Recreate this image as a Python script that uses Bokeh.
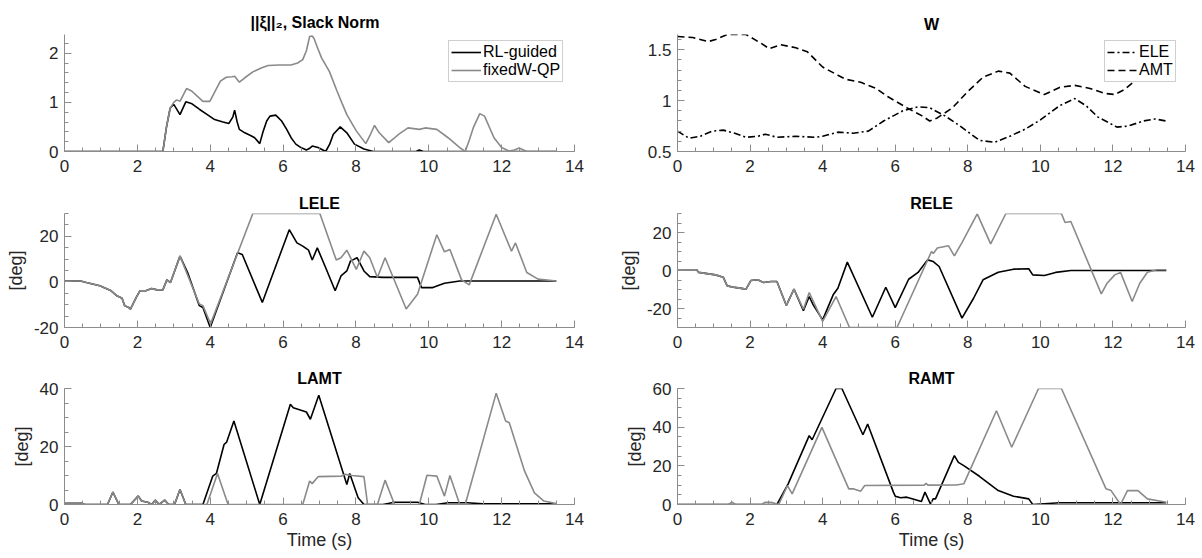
from bokeh.plotting import figure
from bokeh.layouts import column, row
from bokeh.models import Range1d, SingleIntervalTicker, CustomJSTickFormatter, Legend, LegendItem
from bokeh.embed import file_html
from bokeh.resources import INLINE

# ---------------- data ----------------
# Slack norm
slack_rl_x = [0, 2.70, 2.80, 2.90, 3.0, 3.17, 3.33, 3.50, 3.70, 3.9, 4.12, 4.35, 4.51, 4.62, 4.67, 4.74, 4.80, 4.95,
              5.12, 5.22, 5.36, 5.45, 5.55, 5.64, 5.80, 5.96, 6.10, 6.22, 6.35, 6.49, 6.64, 6.72, 6.80, 6.96, 7.17,
              7.28, 7.38, 7.57, 7.75, 7.96, 8.22, 8.48, 9.65, 9.74, 9.85, 13.5]
slack_rl_y = [0, 0, 0.5, 0.88, 0.96, 0.75, 1.01, 0.97, 0.86, 0.76, 0.65, 0.6, 0.57, 0.70, 0.84, 0.6, 0.45, 0.38,
              0.32, 0.28, 0.16, 0.4, 0.62, 0.72, 0.74, 0.62, 0.45, 0.28, 0.15, 0.08, 0.03, 0.06, 0.11, 0.08, 0.0,
              0.15, 0.35, 0.50, 0.38, 0.15, 0.05, 0.0, 0.0, 0.03, 0.0, 0.0]
slack_fw_x = [0, 2.70, 2.80, 2.90, 3.0, 3.08, 3.17, 3.35, 3.49, 3.65, 3.80, 3.99, 4.15, 4.28, 4.44, 4.60, 4.67, 4.80,
              4.95, 5.17, 5.40, 5.59, 5.90, 6.22, 6.40, 6.54, 6.64, 6.73, 6.80, 6.85, 6.95, 7.06, 7.27, 7.48, 7.62,
              7.75, 8.01, 8.27, 8.40, 8.51, 8.64, 8.90, 9.05, 9.17, 9.43, 9.74, 9.90, 10.22, 10.53, 10.85, 11.0,
              11.12, 11.22, 11.40, 11.53, 11.79, 12.0, 12.2, 12.35, 12.48, 12.69, 13.5]
slack_fw_y = [0, 0, 0.5, 0.88, 1.0, 1.05, 1.02, 1.28, 1.23, 1.12, 1.02, 1.02, 1.25, 1.43, 1.51, 1.52, 1.53, 1.41,
              1.50, 1.62, 1.70, 1.75, 1.76, 1.76, 1.80, 1.87, 2.05, 2.34, 2.35, 2.30, 2.10, 1.90, 1.63, 1.23, 0.98,
              0.75, 0.42, 0.16, 0.35, 0.53, 0.38, 0.18, 0.27, 0.35, 0.48, 0.45, 0.48, 0.45, 0.28, 0.08, 0.0,
              0.25, 0.48, 0.77, 0.72, 0.28, 0.08, 0.01, 0.03, 0.07, 0.0, 0.0]

# W
w_ele_x = [0, 0.32, 0.63, 0.95, 1.26, 1.58, 1.89, 2.21, 2.42, 2.74, 3.26, 3.79, 4.0, 4.42, 4.84, 5.26, 5.68, 6.21,
           6.63, 6.95, 7.37, 7.79, 8.32, 8.74, 9.16, 9.58, 10.0, 10.53, 10.95, 11.26, 11.58, 12.11, 12.42, 12.84,
           13.16, 13.47]
w_ele_y = [0.70, 0.63, 0.65, 0.70, 0.71, 0.68, 0.64, 0.65, 0.67, 0.64, 0.65, 0.64, 0.65, 0.69, 0.68, 0.70, 0.80,
           0.90, 0.94, 0.93, 0.85, 0.75, 0.61, 0.59, 0.65, 0.72, 0.81, 0.95, 1.02, 0.95, 0.84, 0.74, 0.75, 0.80,
           0.82, 0.80]
w_amt_x = [0, 0.42, 0.84, 1.05, 1.37, 1.89, 2.32, 2.53, 2.84, 3.26, 3.58, 4.0, 4.42, 4.63, 5.05, 5.47, 5.79, 6.32,
           6.74, 6.95, 7.16, 7.58, 8.0, 8.42, 8.84, 9.16, 9.58, 10.11, 10.53, 10.95, 11.37, 11.79, 12.05, 12.32,
           12.63, 12.95, 13.47]
w_amt_y = [1.63, 1.62, 1.58, 1.60, 1.65, 1.65, 1.56, 1.51, 1.55, 1.52, 1.48, 1.33, 1.25, 1.21, 1.18, 1.12, 1.04,
           0.93, 0.85, 0.80, 0.83, 0.93, 1.09, 1.23, 1.29, 1.27, 1.14, 1.06, 1.13, 1.15, 1.12, 1.07, 1.06, 1.11,
           1.20, 1.28, 1.36]

# LELE
lele_rl_x = [0, 0.44, 0.6, 0.97, 1.28, 1.44, 1.58, 1.65, 1.76, 1.81, 1.97, 2.07, 2.23, 2.39, 2.54, 2.70, 2.81, 2.91,
             3.17, 3.38, 3.70, 3.80, 4.0, 4.75, 4.88, 5.43, 6.17, 6.38, 6.54, 6.70, 6.80, 6.94, 7.17, 7.43, 7.59,
             7.75, 7.85, 8.03, 8.22, 8.38, 8.74, 9.69, 9.80, 10.11, 10.43, 10.85, 13.5]
lele_rl_y = [0.4, 0.4, -0.3, -1.7, -3.9, -6.1, -7.2, -10.4, -11.2, -11.9, -6.8, -3.9, -3.9, -2.9, -3.5, -3.5, 0.9,
             -0.3, 11.3, 4.1, -10.4, -11.2, -20, 12.8, 12.0, -9.0, 22.9, 17.1, 15.7, 13.9, 9.6, 14.9, 6.2, -3.9,
             2.6, 4.8, 9.1, 10.6, 4.8, 2.3, 2.0, 2.0, -2.5, -2.5, -0.6, 0.4, 0.4]
lele_fw_x = [0, 0.44, 0.6, 0.97, 1.28, 1.44, 1.58, 1.65, 1.76, 1.81, 1.97, 2.07, 2.23, 2.39, 2.54, 2.70, 2.81, 2.91,
             3.17, 3.70, 3.80, 4.01, 5.17, 7.01, 7.46, 7.59, 7.75, 8.01, 8.22, 8.38, 8.59, 8.80, 9.38, 9.69, 10.22,
             10.43, 10.58, 10.90, 11.11, 11.85, 12.27, 12.38, 12.69, 13.0, 13.5]
lele_fw_y = [0.4, 0.4, -0.3, -1.7, -3.9, -6.1, -7.2, -10.4, -11.2, -11.9, -6.8, -3.9, -3.9, -2.9, -3.5, -3.5, 0.9,
             -0.3, 11.3, -9.7, -10.4, -18.4, 30, 30, 9.6, 10.6, 13.9, 5.5, 13.5, 10.6, 1.9, 10.6, -11.9, -5.4, 20.7,
             13.2, 14.2, 0.9, -1.3, 29.7, 13.5, 17.1, 4.1, 1.2, 0.4]

# RELE
rele_rl_x = [0, 0.53, 0.58, 1.05, 1.26, 1.37, 1.58, 1.89, 2.02, 2.21, 2.37, 2.58, 2.74, 3.0, 3.21, 3.47, 3.63, 3.74,
             4.0, 4.29, 4.42, 4.68, 5.37, 5.74, 6.0, 6.37, 6.63, 6.89, 7.05, 7.21, 7.84, 8.16, 8.42, 8.84, 9.26,
             9.68, 9.79, 10.11, 10.42, 10.84, 13.47]
rele_rl_y = [0.4, 0.4, -1.0, -2.3, -3.5, -8.1, -8.9, -9.8, -5.3, -4.9, -6.3, -5.8, -5.8, -18.4, -9.8, -21.1, -13.7,
             -18.1, -26, -12.8, -9.3, 4.4, -24.6, -8.8, -19.5, -4.6, -1, 5.6, 4.7, 2.1, -25.1, -14.6, -4.9, -0.9,
             0.7, 0.9, -2.3, -2.6, -1, 0, 0]
rele_fw_x = [0, 0.53, 0.58, 1.05, 1.26, 1.37, 1.58, 1.89, 2.02, 2.21, 2.37, 2.58, 2.74, 3.0, 3.21, 3.47, 3.63, 4.0,
             4.37, 4.74, 6.05, 7.0, 7.05, 7.16, 7.47, 7.63, 7.84, 8.26, 8.63, 9.05, 10.58, 10.68, 10.84, 11.68,
             11.84, 12.05, 12.21, 12.53, 12.74, 12.95, 13.21, 13.47]
rele_fw_y = [0.4, 0.4, -1.0, -2.3, -3.5, -8.1, -8.9, -9.8, -5.3, -4.9, -6.3, -5.8, -5.8, -18.4, -9.8, -20.4, -11.6,
             -26.8, -13.7, -30, -30, 10, 9, 11.8, 13, 7.7, 14.7, 29.8, 14, 30, 30, 25.3, 25.8, -12.3, -6.7, -2.3,
             -1, -16.3, -6.7, -0.9, 0.4, 0.4]

# LAMT
lamt_rl_x = [0, 0.44, 0.55, 1.18, 1.33, 1.49, 1.81, 2.02, 2.12, 2.28, 2.39, 2.49, 2.60, 2.75, 2.86, 3.02, 3.17, 3.33,
             3.80, 4.07, 4.17, 4.38, 4.45, 4.65, 5.36, 6.20, 6.28, 6.64, 6.75, 6.98, 7.75, 7.83, 8.06, 8.22, 8.74,
             9.06, 9.69, 9.90, 10.2, 10.53, 11.06, 11.48, 13.5]
lamt_rl_y = [0.6, 0.6, 0, 0, 4.3, 0, 0, 2.9, 1.2, 0.8, 0, 1.5, 0, 1.5, 0, 0, 5.2, 0,
             0, 9.8, 10.7, 20.7, 21.5, 28.8, 0, 34.6, 33.4, 31.9, 29.4, 37.7, 6.9, 10.7, 2.3, 0, 0,
             0.8, 0.8, 0, 0, 0.6, 0.6, 0.2, 0.2]
lamt_fw_x = [0, 0.44, 0.55, 1.18, 1.33, 1.49, 1.81, 2.02, 2.12, 2.28, 2.39, 2.49, 2.60, 2.75, 2.86, 3.02, 3.17, 3.33,
             3.91, 4.2, 4.49, 6.54, 6.73, 6.80, 6.96, 7.6, 7.7, 7.9, 8.22, 8.32, 8.59, 8.80, 9.06, 9.74, 9.95, 10.22,
             10.43, 10.58, 10.85, 11.0, 11.85, 12.11, 12.21, 12.63, 12.90, 13.16, 13.5]
lamt_fw_y = [0.6, 0.6, 0, 0, 4.3, 0, 0, 2.9, 1.2, 0.8, 0, 1.5, 0, 1.5, 0, 0, 5.2, 0,
             0, 10.7, 0, 0, 8.1, 7.2, 9.6, 9.8, 10.4, 10.0, 9.6, 0, 0, 8.4, 0, 0, 10.1, 9.8,
             2.9, 10.0, 0, 0, 38.4, 28.8, 28.2, 11.5, 4.0, 1.2, 0.3]

# RAMT
ramt_rl_x = [0, 2.74, 3.05, 3.63, 3.71, 4.37, 4.53, 5.11, 5.24, 5.95, 6.0, 6.15, 6.32, 6.63, 6.72, 6.82, 6.97, 7.05,
             7.11, 7.63, 7.74, 7.89, 8.32, 8.84, 9.26, 9.68, 9.79, 10.53, 13.47]
ramt_rl_y = [0, 0, 10.7, 35.6, 33.5, 60, 60, 36.1, 41.6, 6.4, 4.3, 3.5, 3.8, 2.1, 1.5, 6.4, 0.3, 3,
             2.9, 25.3, 21.8, 20.1, 14.6, 7.2, 4.3, 2.9, 0, 0.9, 0.9]
ramt_fw_x = [0, 1.4, 1.5, 1.6, 2.32, 2.42, 2.58, 2.79, 3.03, 3.16, 3.98, 4.72, 4.84, 5.05, 5.16, 6.8, 6.85, 6.9,
             7.68, 7.89, 8.79, 9.21, 9.95, 10.58, 11.81, 11.95, 12.21, 12.40, 12.69, 12.95, 13.47]
ramt_fw_y = [0, 0, 1.2, 0, 0, 1.2, 1.2, 0, 9.8, 5.5, 39.9, 8.1, 8.1, 6.9, 9.8, 10, 11, 10,
             10.1, 10.7, 48.5, 29.6, 60, 60, 8.1, 7.2, 0, 7.2, 7.2, 2.9, 1.2]

series_labels = ["RL-guided", "fixedW-QP"]
w_labels = ["ELE", "AMT"]

# ---------------- styling ----------------
FONT = "Liberation Sans"
BLACK = "#000000"
GREY = "#8a8a8a"
AXC = "#8c8c8c"
TXT = "#262626"


def make(width, height, bl, br, bt, bb, yr, yint, yminor, title, ylabel=None, xlabel=None, tstand=4):
    p = figure(width=width, height=height, x_range=Range1d(0, 14), y_range=Range1d(*yr),
               output_backend="svg", toolbar_location=None,
               min_border_left=bl, min_border_right=br, min_border_top=bt, min_border_bottom=bb)
    p.outline_line_color = None
    p.xgrid.visible = False
    p.ygrid.visible = False
    p.background_fill_color = "white"
    p.border_fill_color = "white"
    p.title.text = title
    p.title.align = "center"
    p.title.text_font = FONT
    p.title.text_font_size = "16px"
    p.title.text_font_style = "bold"
    p.title.text_color = "#000000"
    p.title.standoff = tstand
    p.xaxis.ticker = SingleIntervalTicker(interval=2, num_minor_ticks=4)
    p.yaxis.ticker = SingleIntervalTicker(interval=yint, num_minor_ticks=yminor)
    p.yaxis.formatter = CustomJSTickFormatter(code="return (Math.round(tick*1000)/1000).toString();")
    for ax in (p.xaxis[0], p.yaxis[0]):
        ax.axis_line_color = AXC
        ax.major_tick_line_color = AXC
        ax.minor_tick_line_color = AXC
        ax.major_tick_in = 7
        ax.major_tick_out = 0
        ax.minor_tick_in = 4
        ax.minor_tick_out = 0
        ax.major_label_text_font = FONT
        ax.major_label_text_font_size = "17px"
        ax.major_label_text_color = TXT
        ax.axis_label_text_font = FONT
        ax.axis_label_text_font_size = "18px"
        ax.axis_label_text_font_style = "normal"
        ax.axis_label_text_color = TXT
    p.xaxis.major_label_standoff = 8
    p.xaxis.axis_label_standoff = 2
    p.yaxis.major_label_standoff = 6
    p.yaxis.axis_label_standoff = 5
    if ylabel:
        p.yaxis.axis_label = ylabel
    if xlabel:
        p.xaxis.axis_label = xlabel
    return p


def add_legend(p, items, vx, vy):
    leg = Legend(items=items, location=(vx, vy), margin=0, padding=2, spacing=0,
                 label_height=18, glyph_height=18, glyph_width=30, label_standoff=2,
                 label_text_font=FONT, label_text_font_size="16px", label_text_color="#000000",
                 border_line_color="#a0a0a0", border_line_width=1, background_fill_alpha=1.0)
    p.add_layout(leg, "center")


LW = 1.6
LEFT = dict(width=601, bl=64, br=27)
RIGHT = dict(width=601, bl=76, br=17)
R1 = dict(height=180, bt=34, bb=29)
R2 = dict(height=177, bt=33, bb=30)
R3 = dict(height=201, bt=31, bb=54)

# Slack norm
p1 = make(LEFT["width"], R1["height"], LEFT["bl"], LEFT["br"], R1["bt"], R1["bb"], (0, 2.38), 1, 5,
          "||ξ||₂,  Slack  Norm", tstand=8)
a = p1.line(slack_rl_x, slack_rl_y, color=BLACK, line_width=LW)
b = p1.line(slack_fw_x, slack_fw_y, color=GREY, line_width=LW)
add_legend(p1, [LegendItem(label=series_labels[0], renderers=[a]), LegendItem(label=series_labels[1], renderers=[b])],
           384, 69)

# W
p2 = make(RIGHT["width"], R1["height"], RIGHT["bl"], RIGHT["br"], R1["bt"], R1["bb"], (0.5, 1.65), 0.5, 5, "W")
c = p2.line(w_ele_x, w_ele_y, color=BLACK, line_width=LW, line_dash="7 3 2 3")
d = p2.line(w_amt_x, w_amt_y, color=BLACK, line_width=LW, line_dash="7 4")
add_legend(p2, [LegendItem(label=w_labels[0], renderers=[c]), LegendItem(label=w_labels[1], renderers=[d])],
           427, 69)

# LELE
p3 = make(LEFT["width"], R2["height"], LEFT["bl"], LEFT["br"], R2["bt"], R2["bb"], (-20, 30), 20, 4, "LELE",
          ylabel="[deg]")
p3.line(lele_rl_x, lele_rl_y, color=BLACK, line_width=LW)
p3.line(lele_fw_x, lele_fw_y, color=GREY, line_width=LW)

# RELE
p4 = make(RIGHT["width"], R2["height"], RIGHT["bl"], RIGHT["br"], R2["bt"], R2["bb"], (-30, 30), 20, 4, "RELE",
          ylabel="[deg]")
p4.line(rele_rl_x, rele_rl_y, color=BLACK, line_width=LW)
p4.line(rele_fw_x, rele_fw_y, color=GREY, line_width=LW)

# LAMT
p5 = make(LEFT["width"], R3["height"], LEFT["bl"], LEFT["br"], R3["bt"], R3["bb"], (0, 40), 20, 4, "LAMT",
          ylabel="[deg]", xlabel="Time (s)")
p5.line(lamt_rl_x, lamt_rl_y, color=BLACK, line_width=LW)
p5.line(lamt_fw_x, lamt_fw_y, color=GREY, line_width=LW)

# RAMT
p6 = make(RIGHT["width"], R3["height"], RIGHT["bl"], RIGHT["br"], R3["bt"], R3["bb"], (0, 60), 20, 4, "RAMT",
          ylabel="[deg]", xlabel="Time (s)")
p6.line(ramt_rl_x, ramt_rl_y, color=BLACK, line_width=LW)
p6.line(ramt_fw_x, ramt_fw_y, color=GREY, line_width=LW)

layout = column(row(p1, p2, spacing=0), row(p3, p4, spacing=0), row(p5, p6, spacing=0), spacing=0)

with open("out.html", "w") as f:
    f.write(file_html(layout, INLINE))
